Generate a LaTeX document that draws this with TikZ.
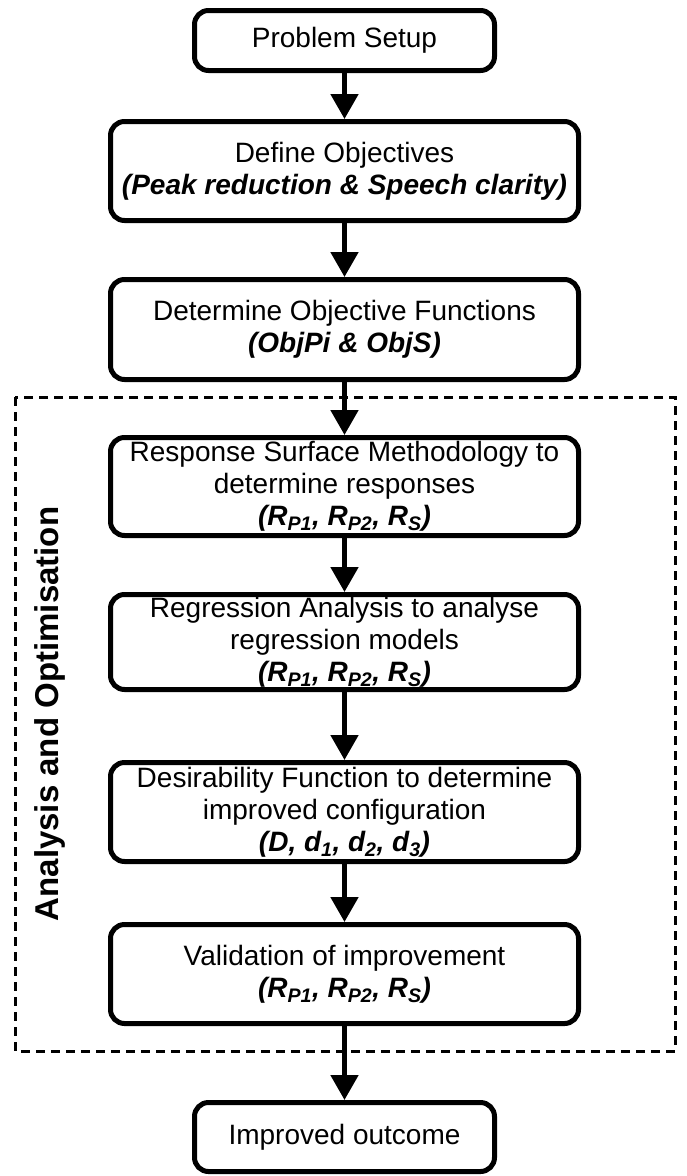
\documentclass[tikz,border=0pt]{standalone}
\usepackage{fontspec}
\setmainfont{Liberation Sans}
\usetikzlibrary{arrows.meta}

\newcommand{\resp}{\textbf{\textit{(R\textsubscript{P1}, R\textsubscript{P2}, R\textsubscript{S})}}}

\begin{document}
\begin{tikzpicture}[x=1pt,y=-1pt]
            \tikzset{
              stepbox/.style={draw,line width=5pt,rounded corners=14pt,align=center,
                inner sep=0pt,font=\fontsize{28}{32}\selectfont},
              smallbox/.style={stepbox,minimum width=300pt},
              widebox/.style={stepbox,minimum width=468pt},
              flow/.style={line width=5pt,-{Triangle[width=27pt,length=25pt]}},
              frame/.style={line width=3pt,dash pattern=on 9pt off 6pt}
            };
            \useasboundingbox (0,0) rectangle (686,1176);

            \node[smallbox,minimum height=60pt] (setup) at (344.5,40.5) {Problem Setup};
            \node[widebox,minimum height=99pt] (objectives) at (344.5,171)
              {Define Objectives\\\textbf{\textit{(Peak reduction \& Speech clarity)}}};
            \node[widebox,minimum height=100pt] (objfun) at (344.5,329.5)
              {Determine Objective Functions\\\textbf{\textit{(ObjPi \& ObjS)}}};

            \draw[frame] (15,397) rectangle (675,1051);
            \node[rotate=90,font=\bfseries\fontsize{33}{36}\selectfont] (analysis) at (50,714)
              {Analysis and Optimisation};

            \node[widebox,minimum height=98pt] (rsm) at (344.5,486.5)
              {Response Surface Methodology to\\determine responses\\\resp};
            \node[widebox,minimum height=95pt] (regression) at (344.5,642)
              {Regression Analysis to analyse\\regression models\\\resp};
            \node[widebox,minimum height=99pt] (desirability) at (344.5,812)
              {Desirability Function to determine\\improved configuration\\
               \textbf{\textit{(D, d\textsubscript{1}, d\textsubscript{2}, d\textsubscript{3})}}};
            \node[widebox,minimum height=99pt] (validation) at (344.5,974)
              {Validation of improvement\\\resp};
            \node[smallbox,minimum height=69pt] (outcome) at (344.5,1137) {Improved outcome};

            \draw[flow] (setup) -- (objectives);
            \draw[flow] (objectives) -- (objfun);
            \draw[flow] (objfun) -- (rsm);
            \draw[flow] (rsm) -- (regression);
            \draw[flow] (regression) -- (desirability);
            \draw[flow] (desirability) -- (validation);
            \draw[flow] (validation) -- (outcome);
\end{tikzpicture}
\end{document}
